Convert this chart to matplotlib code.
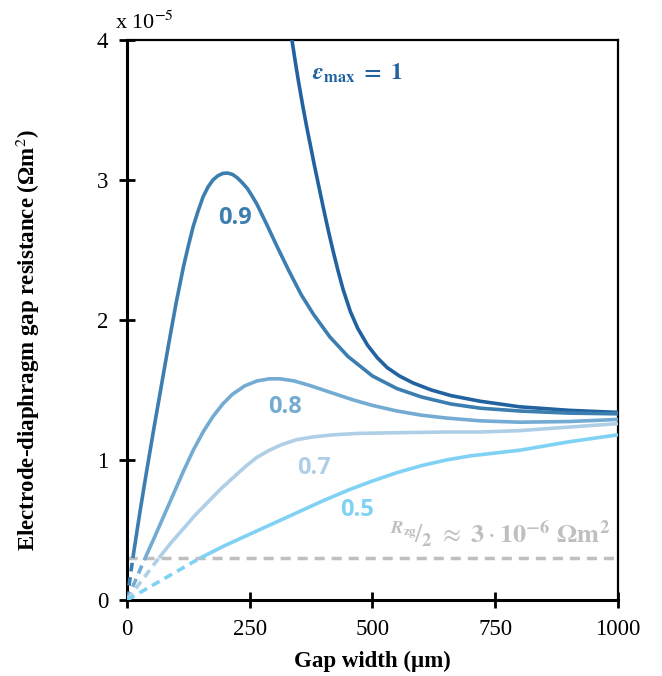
import numpy as np
import matplotlib
matplotlib.use('agg')
import matplotlib.pyplot as plt

# gap width (um) and gap resistance (x 1e-5 Ohm m^2) for each max porosity
x_e10 = [330, 336, 343, 350, 358, 366, 374, 382, 391, 400, 410, 420, 430, 440, 455, 470, 490, 510, 530, 555,
         583, 620, 660, 719, 800, 900, 1000]
y_e10 = [4.12, 4.0, 3.84, 3.69, 3.53, 3.38, 3.24, 3.1, 2.95, 2.8, 2.64, 2.49, 2.35, 2.22, 2.06, 1.94, 1.82, 1.73, 1.66, 1.6,
         1.55, 1.5, 1.46, 1.42, 1.38, 1.355, 1.34]

x_e09 = [0, 12, 26, 40, 55, 70, 85, 100, 115, 125, 135, 145, 155, 165, 175, 185, 195, 205, 215, 225, 235, 245, 255, 265,
         285, 305, 330, 355, 380, 413, 450, 500, 550, 600, 660, 720, 800, 900, 1000]
y_e09 = [0, 0.3, 0.62, 0.92, 1.23, 1.53, 1.83, 2.12, 2.38, 2.53, 2.67, 2.78, 2.88, 2.95, 3.0, 3.03, 3.047, 3.05, 3.04, 3.015, 2.98, 2.94, 2.885, 2.825,
         2.68, 2.53, 2.35, 2.18, 2.04, 1.88, 1.74, 1.6, 1.51, 1.45, 1.4, 1.37, 1.35, 1.335, 1.33]

x_e08 = [0, 37, 55, 75, 95, 115, 135, 155, 175, 195, 215, 240, 265, 290, 312, 340, 370, 400, 430, 460, 500, 550, 600, 650,
         719, 800, 900, 1000]
y_e08 = [0, 0.3, 0.44, 0.6, 0.76, 0.92, 1.07, 1.2, 1.31, 1.4, 1.47, 1.53, 1.565, 1.58, 1.58, 1.565, 1.535, 1.5, 1.465, 1.43, 1.39, 1.35, 1.32, 1.3,
         1.28, 1.27, 1.275, 1.29]

x_e07 = [0, 65, 90, 115, 140, 165, 190, 215, 240, 265, 290, 315, 345, 379, 420, 470, 550, 650, 720, 800, 900, 1000]
y_e07 = [0, 0.3, 0.41, 0.51, 0.61, 0.7, 0.79, 0.87, 0.95, 1.02, 1.07, 1.11, 1.145, 1.165, 1.18, 1.19, 1.195, 1.2, 1.2, 1.21, 1.235, 1.26]

x_e05 = [0, 149, 200, 250, 300, 350, 400, 454, 500, 550, 600, 650, 700, 750, 800, 850, 900, 950, 1000]
y_e05 = [0, 0.3, 0.39, 0.47, 0.55, 0.63, 0.71, 0.79, 0.85, 0.91, 0.96, 1.0, 1.03, 1.05, 1.07, 1.1, 1.13, 1.155, 1.18]

r_half = 0.3   # R_zg/2

names = ['1', '0.9', '0.8', '0.7', '0.5']
colors = ['#2162A0', '#3C7EB0', '#74ABD3', '#AECFE6', '#80D2F5']

plt.rcParams['font.family'] = ['Liberation Serif', 'DejaVu Serif']
plt.rcParams['mathtext.fontset'] = 'stix'

fig = plt.figure(figsize=(6.62, 6.76), dpi=100)
ax = fig.add_axes([0.1918, 0.1124, 0.7417, 0.8284])

ax.plot([0, 1000], [r_half, r_half], color='#BFBFBF', lw=2.5,
        dashes=(2.9, 2.0), zorder=1)

curves = [(x_e10, y_e10), (x_e09, y_e09), (x_e08, y_e08), (x_e07, y_e07), (x_e05, y_e05)]
for (xd, yd), c in zip(curves, colors):
    xd = np.array(xd, dtype=float)
    yd = np.array(yd, dtype=float)
    lo = yd <= r_half
    hi = yd >= r_half
    ax.plot(xd[hi], yd[hi], color=c, lw=2.6, solid_capstyle='butt',
            solid_joinstyle='round', zorder=3)
    if lo.sum() > 1:
        ax.plot(xd[lo], yd[lo], color=c, lw=2.6, dashes=(2.4, 1.6), zorder=3)

ax.set_xlim(0, 1000)
ax.set_ylim(0, 4)
ax.set_xticks([0, 250, 500, 750, 1000])
ax.set_yticks([0, 1, 2, 3, 4])
ax.tick_params(direction='inout', length=11, width=2, labelsize=16.5, pad=8)
ax.tick_params(axis='x', pad=8)
for s in ['left', 'bottom']:
    ax.spines[s].set_linewidth(2.2)
for s in ['top', 'right']:
    ax.spines[s].set_linewidth(1.6)

ax.set_xlabel('Gap width (\u00b5m)', fontsize=16.5, fontweight='bold', va='center')
ax.xaxis.set_label_coords(0.5, -0.109)
ax.set_ylabel('Electrode-diaphragm gap resistance (\u03a9m$^2$)', fontsize=16.5,
              fontweight='bold', va='center')
ax.yaxis.set_label_coords(-0.201, 0.464)
fig.text(0.174, 0.966, 'x 10$^{-5}$', fontsize=16, ha='left', va='center')

lab = dict(fontsize=17, fontweight='bold', family='Open Sans', ha='center', va='center')
ax.text(377, 3.76, r'$\mathbfit{\varepsilon}_{\mathbf{max}}\ \mathbf{=\ 1}$', color=colors[0],
        fontsize=17, ha='left', va='center')
ax.text(220, 2.73, names[1], color=colors[1], **lab)
ax.text(322, 1.38, names[2], color=colors[2], **lab)
ax.text(381, 0.94, names[3], color=colors[3], **lab)
ax.text(468, 0.64, names[4], color=colors[4], **lab)
ax.text(535, 0.41, r'$^{\mathbfit{R}_{\mathbf{zg}}}\!/_{\mathbf{2}}\ \approx\ \mathbf{3}\cdot\mathbf{10^{-6}\ \Omega m^2}$',
        color='#BFBFBF', fontsize=19, ha='left', va='baseline')

fig.savefig('out.png', dpi=100)
